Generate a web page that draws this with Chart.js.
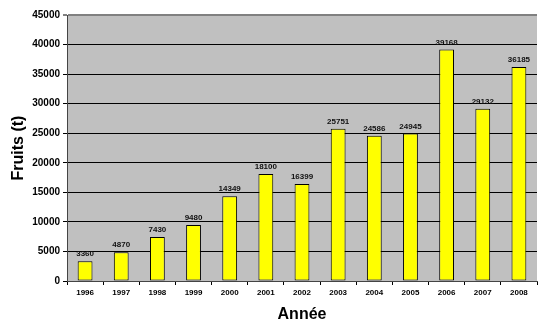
<!DOCTYPE html>
<html>
<head>
<meta charset="utf-8">
<script src="https://cdn.jsdelivr.net/npm/chart.js@4"></script>
<style>
  html, body { margin: 0; padding: 0; background: #fff; }
  #wrap { width: 538px; height: 323px; }
</style>
</head>
<body>
<div id="wrap"><canvas id="fruitChart" width="538" height="323"></canvas></div>
<script>
// * données
const annees = ["1996", "1997", "1998", "1999", "2000", "2001", "2002", "2003", "2004", "2005", "2006", "2007", "2008"];
const fruits = [3360, 4870, 7430, 9480, 14349, 18100, 16399, 25751, 24586, 24945, 39168, 29132, 36185];
const yMax = 45000;
const yStep = 5000;

// ? fond gris de la zone de tracé
const plotBg = {
  id: "plotBg",
  beforeDraw(chart) {
    const { ctx, chartArea: a } = chart;
    ctx.save();
    ctx.fillStyle = "#c0c0c0";
    ctx.fillRect(a.left, a.top, a.right - a.left, a.bottom - a.top);
    ctx.restore();
  },
};

// ? étiquettes de valeurs au-dessus des barres
const valueLabels = {
  id: "valueLabels",
  afterDatasetsDraw(chart) {
    const { ctx } = chart;
    const meta = chart.getDatasetMeta(0);
    ctx.save();
    ctx.font = "bold 8px 'Liberation Sans', Arial, sans-serif";
    ctx.fillStyle = "#111";
    ctx.textAlign = "center";
    ctx.textBaseline = "bottom";
    meta.data.forEach((bar, i) => {
      ctx.fillText(String(fruits[i]), bar.x, bar.y - 3);
    });
    ctx.restore();
  },
};

const ctx = document.getElementById("fruitChart").getContext("2d");
const chart = new Chart(ctx, {
  type: "bar",
  data: {
    labels: annees,
    datasets: [
      {
        data: fruits,
        backgroundColor: "#ffff00",
        borderColor: "#000",
        borderWidth: 1,
        borderSkipped: false,
        categoryPercentage: 1,
        barPercentage: 0.41,
      },
    ],
  },
  options: {
    responsive: false,
    animation: false,
    maintainAspectRatio: false,
    layout: { padding: { top: 15, right: 1, left: 0, bottom: 0 } },
    plugins: {
      legend: { display: false },
      tooltip: { enabled: false },
    },
    scales: {
      x: {
        grid: {
          display: true,
          offset: true,
          drawOnChartArea: false,
          color: "#000",
          tickLength: 4,
        },
        border: { color: "#444", width: 1 },
        ticks: {
          color: "#000",
          padding: 3,
          maxRotation: 0,
          font: { family: "'Liberation Sans', Arial", size: 8, weight: "bold" },
        },
        title: {
          display: true,
          text: "Année",
          color: "#000",
          padding: { top: 0, bottom: 0 },
          font: { family: "'Liberation Sans', Arial", size: 16, weight: "bold", lineHeight: 1 },
        },
        afterFit(scale) {
          scale.height = 42;
        },
      },
      y: {
        min: 0,
        max: yMax,
        grid: {
          color: (c) => (c.tick && c.tick.value === yMax ? "#808080" : "#000"),
          lineWidth: (c) => (c.tick && c.tick.value === yMax ? 2 : 1),
          tickLength: 4,
        },
        border: { color: "#444", width: 1 },
        ticks: {
          stepSize: yStep,
          color: "#000",
          padding: 3,
          callback: (v) => String(v),
          font: { family: "'Liberation Sans', Arial", size: 10, weight: "bold" },
        },
        title: {
          display: true,
          text: "Fruits (t)",
          color: "#000",
          padding: { top: 9, bottom: 0 },
          font: { family: "'Liberation Sans', Arial", size: 16, weight: "bold" },
        },
        afterFit(scale) {
          scale.width = 67;
        },
      },
    },
  },
  plugins: [plotBg, valueLabels],
});
</script>
</body>
</html>
